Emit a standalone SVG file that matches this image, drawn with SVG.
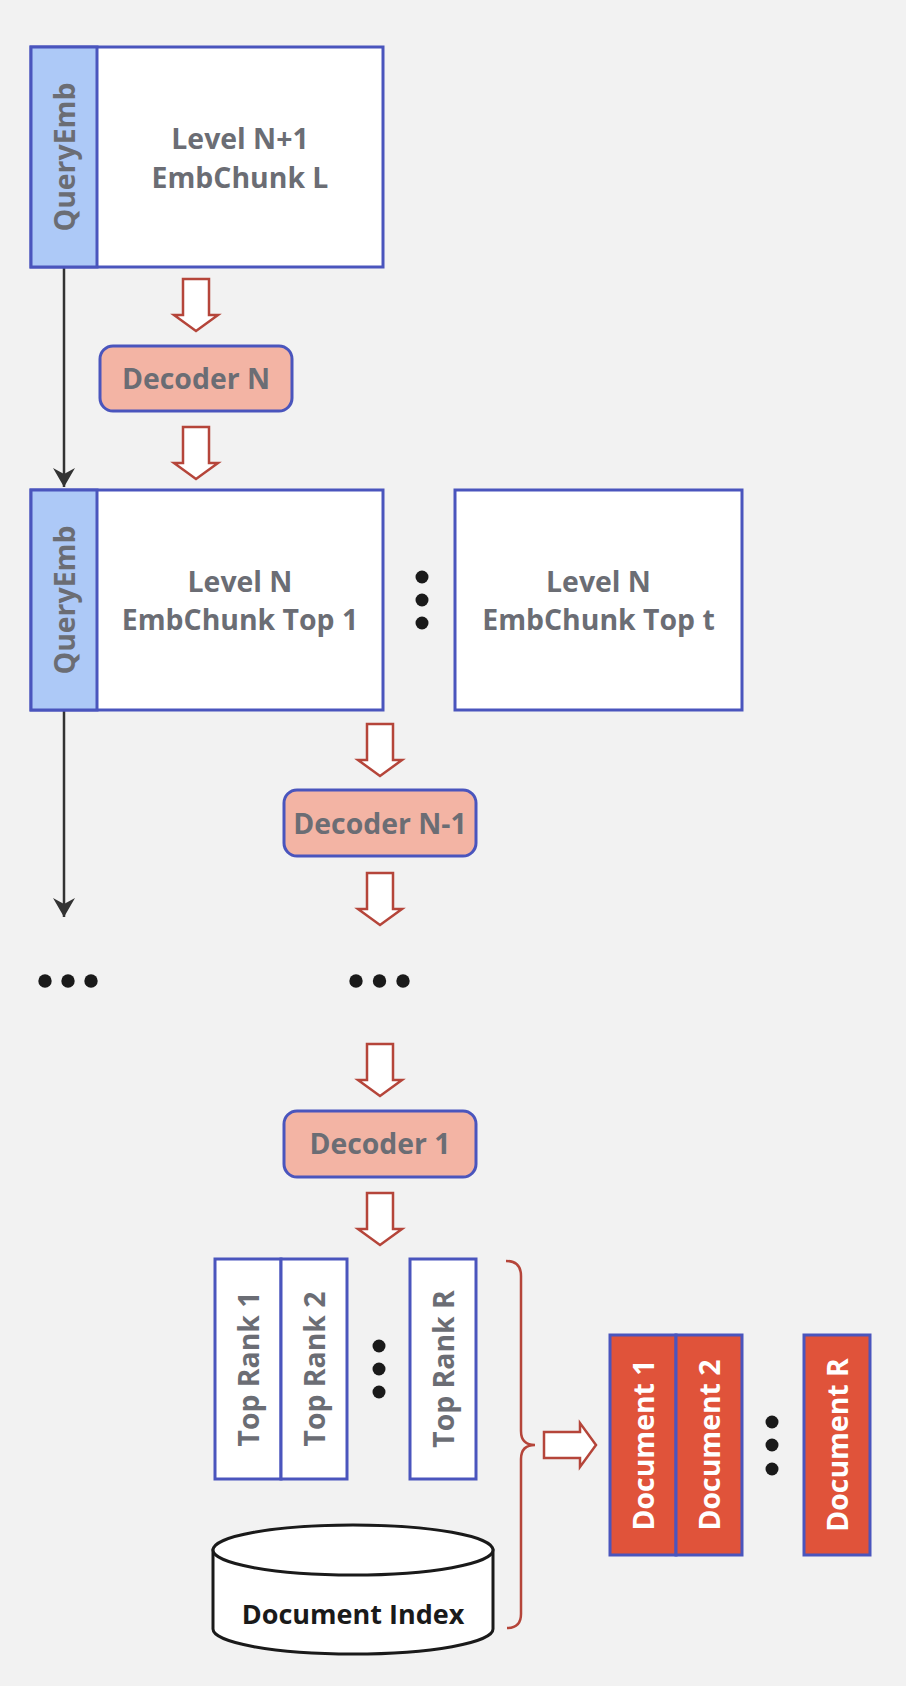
<svg xmlns="http://www.w3.org/2000/svg" width="906" height="1686" viewBox="0 0 906 1686">
<defs>
<style>
.box{fill:#ffffff;stroke:#4a55bd;stroke-width:3}
.strip{fill:#adc9f7;stroke:#4a55bd;stroke-width:3}
.dec{fill:#f3b4a4;stroke:#4a55bd;stroke-width:3}
.doc{fill:#e0533a;stroke:#4a55bd;stroke-width:3}
.t{font-family:"Open Sans","Liberation Sans",sans-serif;font-weight:700;font-size:28.4px;fill:#6b6d74;text-anchor:middle}
.tw{fill:#ffffff}
.tb{fill:#1a1a1a;font-size:27px}
.harrow{fill:#ffffff;stroke:#b5453a;stroke-width:2.5;stroke-linejoin:miter}
.conn{stroke:#333333;stroke-width:2.5;fill:none}
.dot{fill:#1a1a1a}
</style>
<marker id="ah" viewBox="-20 -12 22 24" markerWidth="22" markerHeight="24" refX="0" refY="0" orient="auto" markerUnits="userSpaceOnUse">
<path d="M0,0 L-19,-11 L-13,0 L-19,11 Z" fill="#333333"/>
</marker>
<path id="harr" d="M-13,0 H13 V36 H22 L0,52 L-22,36 H-13 Z"/>
</defs>
<rect x="0" y="0" width="906" height="1686" fill="#f2f2f2"/>

<g id="connectors">
<line class="conn" x1="64" y1="268" x2="64" y2="487" marker-end="url(#ah)"/>
<line class="conn" x1="64" y1="711" x2="64" y2="917" marker-end="url(#ah)"/>
<use href="#harr" class="harrow" transform="translate(196,279)"/>
<use href="#harr" class="harrow" transform="translate(196,427)"/>
<use href="#harr" class="harrow" transform="translate(380,724)"/>
<use href="#harr" class="harrow" transform="translate(380,873)"/>
<use href="#harr" class="harrow" transform="translate(380,1044)"/>
<use href="#harr" class="harrow" transform="translate(380,1193)"/>
<use href="#harr" class="harrow" transform="translate(544,1445) rotate(-90)"/>
<path d="M506,1261 Q521,1261 521,1276 V1431 Q521,1445 535,1445 Q521,1445 521,1459 V1614 Q521,1628 507,1628" fill="none" stroke="#b5453a" stroke-width="2.5"/>
</g>

<g id="level-n1">
<rect class="box" x="31" y="47" width="352" height="220"/>
<rect class="strip" x="31" y="47" width="66" height="220"/>
<text class="t" transform="translate(75,157) rotate(-90)">QueryEmb</text>
<text class="t" x="240" y="149">Level N+1</text>
<text class="t" x="240" y="188">EmbChunk L</text>
</g>

<g id="decoder-n">
<rect class="dec" x="100" y="346" width="192" height="65" rx="13"/>
<text class="t" x="196" y="389">Decoder N</text>
</g>

<g id="level-n-top1">
<rect class="box" x="31" y="490" width="352" height="220"/>
<rect class="strip" x="31" y="490" width="66" height="220"/>
<text class="t" transform="translate(75,600) rotate(-90)">QueryEmb</text>
<text class="t" x="240" y="592">Level N</text>
<text class="t" x="240" y="630">EmbChunk Top 1</text>
</g>

<g id="dots-level-n">
<circle class="dot" cx="422" cy="577" r="6.5"/>
<circle class="dot" cx="422" cy="600" r="6.5"/>
<circle class="dot" cx="422" cy="623" r="6.5"/>
</g>

<g id="level-n-topt">
<rect class="box" x="455" y="490" width="287" height="220"/>
<text class="t" x="598.5" y="592">Level N</text>
<text class="t" x="598.5" y="630">EmbChunk Top t</text>
</g>

<g id="decoder-n-1">
<rect class="dec" x="284" y="790" width="192" height="66" rx="13"/>
<text class="t" x="380" y="834">Decoder N-1</text>
</g>

<g id="dots-left">
<circle class="dot" cx="45" cy="981" r="6.7"/>
<circle class="dot" cx="68" cy="981" r="6.7"/>
<circle class="dot" cx="91" cy="981" r="6.7"/>
</g>
<g id="dots-mid">
<circle class="dot" cx="356" cy="981" r="6.7"/>
<circle class="dot" cx="379.5" cy="981" r="6.7"/>
<circle class="dot" cx="403" cy="981" r="6.7"/>
</g>

<g id="decoder-1">
<rect class="dec" x="284" y="1111" width="192" height="66" rx="13"/>
<text class="t" x="380" y="1154">Decoder 1</text>
</g>

<g id="top-rank-1">
<rect class="box" x="215" y="1259" width="66" height="220"/>
<text class="t" transform="translate(259,1369) rotate(-90)">Top Rank 1</text>
</g>
<g id="top-rank-2">
<rect class="box" x="281" y="1259" width="66" height="220"/>
<text class="t" transform="translate(325,1369) rotate(-90)">Top Rank 2</text>
</g>
<g id="dots-rank">
<circle class="dot" cx="379" cy="1346" r="6.5"/>
<circle class="dot" cx="379" cy="1369" r="6.5"/>
<circle class="dot" cx="379" cy="1392" r="6.5"/>
</g>
<g id="top-rank-r">
<rect class="box" x="410" y="1259" width="66" height="220"/>
<text class="t" transform="translate(454,1369) rotate(-90)">Top Rank R</text>
</g>

<g id="document-index">
<path d="M213,1550 V1629 A140,25 0 0 0 493,1629 V1550 Z" fill="#ffffff" stroke="#1a1a1a" stroke-width="3"/>
<ellipse cx="353" cy="1550" rx="140" ry="25" fill="#ffffff" stroke="#1a1a1a" stroke-width="3"/>
<text class="t tb" x="353" y="1624">Document Index</text>
</g>

<g id="document-1">
<rect class="doc" x="610" y="1335" width="66" height="220"/>
<text class="t tw" transform="translate(654,1445) rotate(-90)">Document 1</text>
</g>
<g id="document-2">
<rect class="doc" x="676" y="1335" width="66" height="220"/>
<text class="t tw" transform="translate(720,1445) rotate(-90)">Document 2</text>
</g>
<g id="dots-doc">
<circle class="dot" cx="772" cy="1422" r="6.5"/>
<circle class="dot" cx="772" cy="1445" r="6.5"/>
<circle class="dot" cx="772" cy="1469" r="6.5"/>
</g>
<g id="document-r">
<rect class="doc" x="804" y="1335" width="66" height="220"/>
<text class="t tw" transform="translate(848,1445) rotate(-90)">Document R</text>
</g>
</svg>
